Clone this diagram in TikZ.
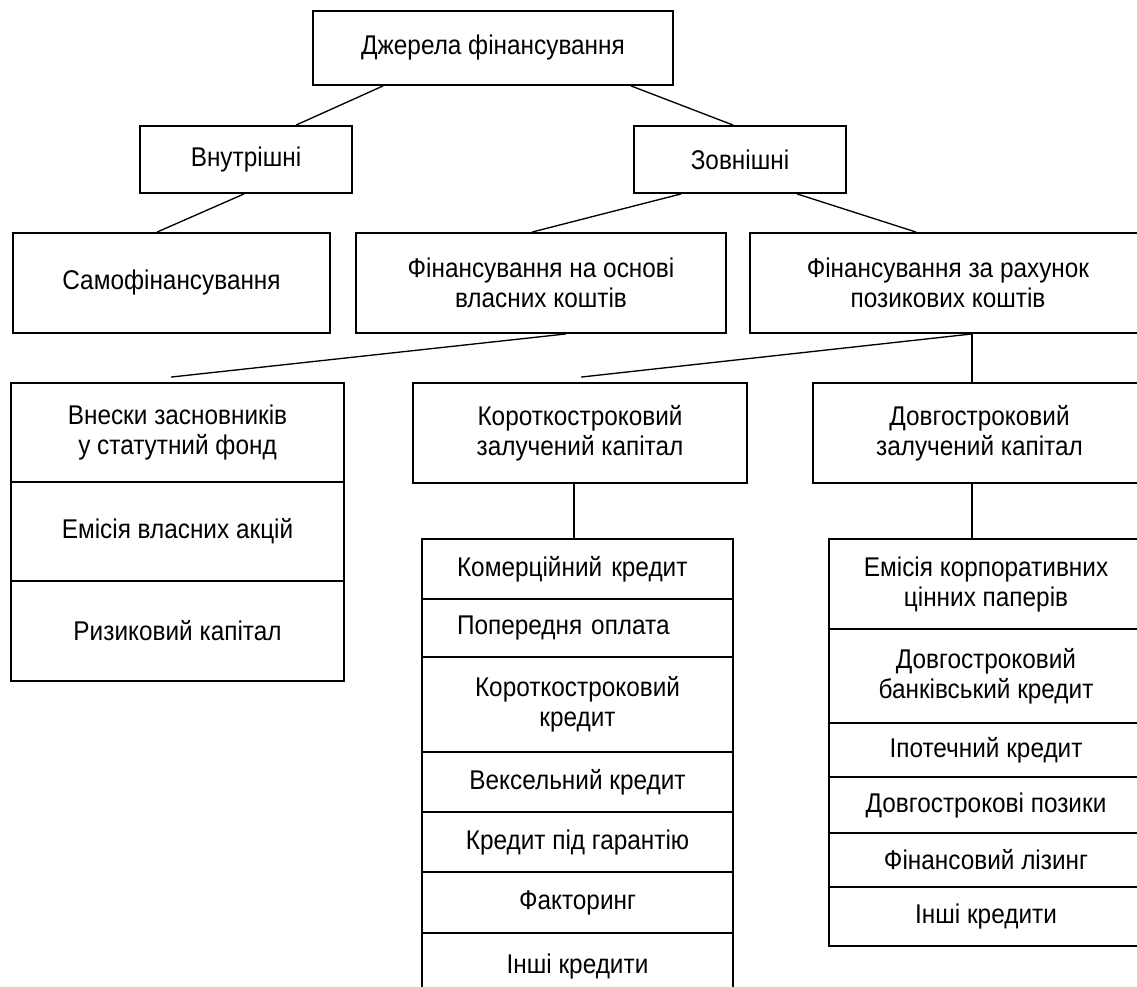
\documentclass[tikz,border=0pt]{standalone}
\usepackage{fontspec}
\setmainfont{Liberation Sans}[FakeStretch=0.9]
\usetikzlibrary{calc}
\tikzset{
  bx/.style={draw, line width=1.4pt, inner sep=2pt, align=center,
             font=\fontsize{20.3}{22.5}\selectfont},
  leftbox/.style={align=left, text width=180.75pt, inner xsep=26.25pt},
  conn/.style={line width=1pt},
}
% #2 name, #3 x1, #4 y1, #5 x2, #6 y2 (pixels), #7 text
\newcommand\mkbox[7][]{\node[bx,minimum width={(#5-#3)*0.75pt},minimum height={(#6-#4)*0.75pt},#1] (#2) at ({(#3+#5)/2},{(#4+#6)/2}) {#7};}
\begin{document}
\begin{tikzpicture}[x=0.75pt,y=-0.75pt]
\useasboundingbox (0,0) rectangle (1137,987);
\clip (0,0) rectangle (1137,987);

\mkbox{top}{313}{11}{673}{85}{Джерела фінансування}
\mkbox{vn}{140}{126}{352}{193}{Внутрішні}
\mkbox{zo}{634}{126}{846}{193}{Зовнішні}
\mkbox{sam}{13}{233}{330}{333}{Самофінансування}
\mkbox{vl}{356}{233}{726}{333}{Фінансування на основі\\власних коштів}
\mkbox{poz}{750}{233}{1146}{333}{Фінансування за рахунок\\позикових коштів}

\mkbox{vns}{11}{383}{344}{482}{Внески засновників\\у статутний фонд}
\mkbox{emv}{11}{482}{344}{581}{Емісія власних акцій}
\mkbox{ryz}{11}{581}{344}{681}{Ризиковий капітал}

\mkbox{kor}{413}{383}{747}{483}{Короткостроковий\\залучений капітал}
\mkbox{dov}{813}{383}{1146}{483}{Довгостроковий\\залучений капітал}

\mkbox[leftbox]{m1}{422}{539}{733}{599}{Комерційний кредит}
\mkbox[leftbox]{m2}{422}{599}{733}{657}{Попередня оплата}
\mkbox{m3}{422}{657}{733}{752}{Короткостроковий\\кредит}
\mkbox{m4}{422}{752}{733}{812}{Вексельний кредит}
\mkbox{m5}{422}{812}{733}{872}{Кредит під гарантію}
\mkbox{m6}{422}{872}{733}{933}{Факторинг}
\mkbox{m7}{422}{933}{733}{1000}{Інші кредити}

\mkbox{r1}{829}{539}{1143}{629}{Емісія корпоративних\\цінних паперів}
\mkbox{r2}{829}{629}{1143}{723}{Довгостроковий\\банківський кредит}
\mkbox{r3}{829}{723}{1143}{777}{Іпотечний кредит}
\mkbox{r4}{829}{777}{1143}{833}{Довгострокові позики}
\mkbox{r5}{829}{833}{1143}{887}{Фінансовий лізинг}
\mkbox{r6}{829}{887}{1143}{946}{Інші кредити}

\draw[conn] ($(top.south west)+(71,0)$) -- ($(vn.north west)+(157,0)$);
\draw[conn] ($(top.south west)+(319,0)$) -- ($(zo.north west)+(100,0)$);
\draw[conn] ($(vn.south west)+(105,0)$) -- ($(sam.north west)+(145,0)$);
\draw[conn] ($(zo.south west)+(48,0)$) -- ($(vl.north west)+(177,0)$);
\draw[conn] ($(zo.south west)+(164,0)$) -- ($(poz.north west)+(167,0)$);
\draw[conn] ($(vl.south west)+(211,0)$) -- ($(vns.north west)+(161,-5)$);
\draw[conn] ($(poz.south west)+(223,0)$) -- ($(kor.north west)+(169,-5)$);
\draw[conn] ($(poz.south west)+(223,0)$) -- ($(dov.north west)+(160,0)$);
\draw[conn] ($(kor.south west)+(162,0)$) -- ($(m1.north west)+(153,0)$);
\draw[conn] ($(dov.south west)+(160,0)$) -- ($(r1.north west)+(144,0)$);
\end{tikzpicture}
\end{document}
